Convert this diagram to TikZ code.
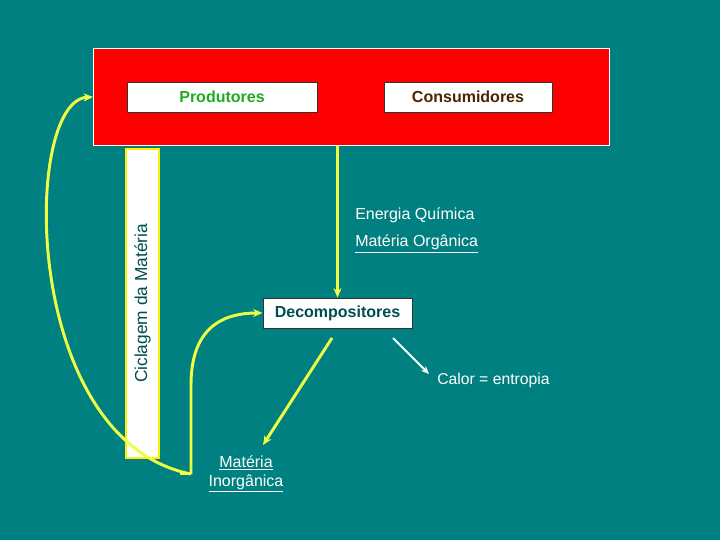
\documentclass[tikz,border=0pt]{standalone}
\usepackage{fontspec}
\setmainfont{Liberation Sans}
\usetikzlibrary{arrows.meta}
\definecolor{bg}{HTML}{008080}
\definecolor{ylw}{HTML}{EEFF44}
\definecolor{prodgreen}{HTML}{22AA22}
\definecolor{consbrown}{HTML}{4D2600}
\definecolor{darkteal}{HTML}{004D4D}
\tikzset{
  whitebox/.style={draw=black!80, fill=white, line width=0.75pt, inner sep=0pt, minimum height=22.5pt},
  yarrow/.style={draw=ylw, line width=2.2pt, -{Stealth[length=7pt,width=6pt]}},
  yline/.style={draw=ylw, line width=2.2pt},
  wtext/.style={text=white, font=\fontsize{12}{14.25}\selectfont, inner sep=0pt}
}
\begin{document}
\begin{tikzpicture}[x=0.75pt,y=-0.75pt]
\fill[bg] (0,0) rectangle (720,540);
\useasboundingbox (0,0) rectangle (720,540);
% red ecosystem block
\node (eco) [fill=red, draw=white, line width=0.75pt, inner sep=0pt, minimum width=387pt, minimum height=72.75pt, anchor=north west] at (93,48) {};
\node (prod) [whitebox, minimum width=142.5pt, text=prodgreen, font=\fontsize{12}{14}\selectfont\bfseries] at (222,97) {Produtores};
\node (cons) [whitebox, minimum width=126pt, text=consbrown, font=\fontsize{12}{14}\selectfont\bfseries] at (468,97) {Consumidores};
% cycle label box
\node (cicl) [draw=yellow, line width=2pt, fill=white, inner sep=0pt, minimum width=231.75pt, minimum height=24.75pt, rotate=90, text=darkteal, font=\fontsize{13}{15}\selectfont] at (142.5,303.5) {Ciclagem da Matéria};
% decomposers
\node (dec) [whitebox, minimum width=111.75pt, text=darkteal, font=\fontsize{12}{14}\selectfont\bfseries] at (337.5,313) {Decompositores};
% labels
\node (ener) [wtext, anchor=west] at (355,215) {Energia Química};
\node (morg) [wtext, anchor=west] at (355,244) {\underline{Matéria Orgânica}};
\node (inorg) [wtext, align=center] at (246,474) {\underline{Matéria}\\\underline{Inorgânica}};
\node (cal) [wtext, anchor=west, font=\fontsize{11.8}{13}\selectfont] at (437,380) {Calor = entropia};
% connectors
\draw[yarrow] (dec.north |- eco.south) -- (dec.north);
\coordinate (ds) at (332,338);
\coordinate (ie) at (263,445);
\draw[yarrow] (ds) -- (ie);
\coordinate (ws) at (393,338);
\coordinate (we) at (429,374);
\draw[draw=white, line width=1.5pt, -{Stealth[length=6pt,width=5pt]}] (ws) -- (we);
\coordinate (J) at (191,474);
\draw[yline] (180,474) -- (J);
\draw[yarrow] (J) -- (191,385) .. controls (191,335) and (215,313) .. (dec.west);
\draw[yarrow] (J) .. controls (20,440) and (22,100) .. (eco.west |- prod.center);
\end{tikzpicture}
\end{document}
